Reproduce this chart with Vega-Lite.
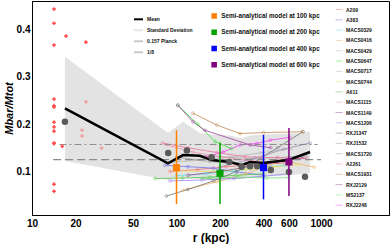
{
  "$schema": "https://vega.github.io/schema/vega-lite/v6.json",
  "width": 357,
  "height": 214,
  "autosize": {"type": "none"},
  "padding": {"left": 32, "top": 1, "right": 1, "bottom": 29},
  "config": {
    "font": "Liberation Sans",
    "view": {"stroke": "black", "strokeWidth": 1},
    "axis": {"grid": false, "domainColor": "black", "labelFontWeight": "bold", "labelFontSize": 10, "labelColor": "black", "titleFontWeight": "bold", "titleColor": "black"},
    "legend": {"padding": 0, "labelFont": "Liberation Sans", "labelFontWeight": "bold", "labelColor": "#111111"}
  },
  "resolve": {"scale": {"color": "independent"}},
  "encoding": {
    "x": {"field": "r", "type": "quantitative", "scale": {"type": "log", "domain": [10, 2955], "nice": false},
      "axis": {"values": [10, 20, 50, 100, 200, 400, 600, 1000], "format": "d", "ticks": false, "labelPadding": 3, "title": "r (kpc)", "titleFontSize": 12, "titlePadding": 4, "labelFlush": false}},
    "y": {"field": "v", "type": "quantitative", "scale": {"domain": [0.008, 0.46], "nice": false, "zero": false},
      "axis": {"values": [0.1, 0.2, 0.3, 0.4], "format": ".1f", "ticks": false, "labelPadding": 2, "title": "Mbar/Mtot", "titleFontSize": 11, "titleFontStyle": "italic", "titlePadding": 2}}
  },
  "layer": [
    {
      "data": {"values": [
        {"r": 16.9, "v": 0.342, "lo": 0.122},
        {"r": 87.3, "v": 0.181, "lo": 0.082},
        {"r": 111, "v": 0.205, "lo": 0.086},
        {"r": 145, "v": 0.181, "lo": 0.084},
        {"r": 175, "v": 0.178, "lo": 0.083},
        {"r": 234, "v": 0.176, "lo": 0.083},
        {"r": 282, "v": 0.17, "lo": 0.084},
        {"r": 323, "v": 0.176, "lo": 0.086},
        {"r": 397, "v": 0.178, "lo": 0.088},
        {"r": 591, "v": 0.18, "lo": 0.092},
        {"r": 840, "v": 0.184, "lo": 0.096}
      ]},
      "mark": {"type": "area", "color": "#e3e3e3"},
      "encoding": {"y2": {"field": "lo"}}
    },
    {
      "data": {"values": [
        {"c": "A209", "r": 90, "v": 0.100}, {"c": "A209", "r": 140, "v": 0.104}, {"c": "A209", "r": 220, "v": 0.110}, {"c": "A209", "r": 350, "v": 0.114}, {"c": "A209", "r": 560, "v": 0.118},
        {"c": "A383", "r": 83, "v": 0.113}, {"c": "A383", "r": 120, "v": 0.110}, {"c": "A383", "r": 180, "v": 0.107}, {"c": "A383", "r": 260, "v": 0.099}, {"c": "A383", "r": 400, "v": 0.092},
        {"c": "MACS0329", "r": 100, "v": 0.091}, {"c": "MACS0329", "r": 160, "v": 0.095}, {"c": "MACS0329", "r": 250, "v": 0.101}, {"c": "MACS0329", "r": 380, "v": 0.108}, {"c": "MACS0329", "r": 560, "v": 0.113},
        {"c": "MACS0416", "r": 110, "v": 0.060}, {"c": "MACS0416", "r": 190, "v": 0.078}, {"c": "MACS0416", "r": 300, "v": 0.095}, {"c": "MACS0416", "r": 530, "v": 0.124}, {"c": "MACS0416", "r": 900, "v": 0.109},
        {"c": "MACS0429", "r": 95, "v": 0.120}, {"c": "MACS0429", "r": 150, "v": 0.124}, {"c": "MACS0429", "r": 240, "v": 0.131}, {"c": "MACS0429", "r": 380, "v": 0.139}, {"c": "MACS0429", "r": 620, "v": 0.148},
        {"c": "MACS0647", "r": 102, "v": 0.240}, {"c": "MACS0647", "r": 140, "v": 0.200}, {"c": "MACS0647", "r": 185, "v": 0.163}, {"c": "MACS0647", "r": 240, "v": 0.148},
        {"c": "MACS0717", "r": 120, "v": 0.136}, {"c": "MACS0717", "r": 200, "v": 0.131}, {"c": "MACS0717", "r": 320, "v": 0.127}, {"c": "MACS0717", "r": 500, "v": 0.129}, {"c": "MACS0717", "r": 800, "v": 0.134},
        {"c": "MACS0744", "r": 100, "v": 0.101}, {"c": "MACS0744", "r": 180, "v": 0.100}, {"c": "MACS0744", "r": 300, "v": 0.104}, {"c": "MACS0744", "r": 480, "v": 0.110}, {"c": "MACS0744", "r": 700, "v": 0.114},
        {"c": "A611", "r": 71, "v": 0.085}, {"c": "A611", "r": 110, "v": 0.086}, {"c": "A611", "r": 170, "v": 0.088}, {"c": "A611", "r": 260, "v": 0.092}, {"c": "A611", "r": 400, "v": 0.095},
        {"c": "MACS1115", "r": 85, "v": 0.156}, {"c": "MACS1115", "r": 130, "v": 0.141}, {"c": "MACS1115", "r": 200, "v": 0.131}, {"c": "MACS1115", "r": 300, "v": 0.124}, {"c": "MACS1115", "r": 450, "v": 0.119},
        {"c": "MACS1149", "r": 102, "v": 0.240}, {"c": "MACS1149", "r": 130, "v": 0.205}, {"c": "MACS1149", "r": 157, "v": 0.187}, {"c": "MACS1149", "r": 323, "v": 0.156}, {"c": "MACS1149", "r": 450, "v": 0.150},
        {"c": "MACS1206", "r": 90, "v": 0.080}, {"c": "MACS1206", "r": 150, "v": 0.082}, {"c": "MACS1206", "r": 250, "v": 0.085}, {"c": "MACS1206", "r": 400, "v": 0.090}, {"c": "MACS1206", "r": 600, "v": 0.095},
        {"c": "RXJ1347", "r": 85, "v": 0.048}, {"c": "RXJ1347", "r": 120, "v": 0.062}, {"c": "RXJ1347", "r": 180, "v": 0.080}, {"c": "RXJ1347", "r": 260, "v": 0.100}, {"c": "RXJ1347", "r": 340, "v": 0.118}, {"c": "RXJ1347", "r": 500, "v": 0.150}, {"c": "RXJ1347", "r": 750, "v": 0.184},
        {"c": "RXJ1532", "r": 100, "v": 0.130}, {"c": "RXJ1532", "r": 170, "v": 0.121}, {"c": "RXJ1532", "r": 280, "v": 0.115}, {"c": "RXJ1532", "r": 450, "v": 0.110},
        {"c": "MACS1720", "r": 200, "v": 0.110}, {"c": "MACS1720", "r": 350, "v": 0.128}, {"c": "MACS1720", "r": 550, "v": 0.147}, {"c": "MACS1720", "r": 840, "v": 0.160},
        {"c": "A2261", "r": 80, "v": 0.160}, {"c": "A2261", "r": 120, "v": 0.150}, {"c": "A2261", "r": 190, "v": 0.140}, {"c": "A2261", "r": 300, "v": 0.131}, {"c": "A2261", "r": 500, "v": 0.129}, {"c": "A2261", "r": 800, "v": 0.127},
        {"c": "MACS1931", "r": 130, "v": 0.223}, {"c": "MACS1931", "r": 190, "v": 0.198}, {"c": "MACS1931", "r": 275, "v": 0.180}, {"c": "MACS1931", "r": 400, "v": 0.182}, {"c": "MACS1931", "r": 750, "v": 0.184},
        {"c": "RXJ2129", "r": 120, "v": 0.092}, {"c": "RXJ2129", "r": 200, "v": 0.100}, {"c": "RXJ2129", "r": 320, "v": 0.110}, {"c": "RXJ2129", "r": 500, "v": 0.120}, {"c": "RXJ2129", "r": 760, "v": 0.130},
        {"c": "MS2137", "r": 150, "v": 0.085}, {"c": "MS2137", "r": 270, "v": 0.088}, {"c": "MS2137", "r": 420, "v": 0.086}, {"c": "MS2137", "r": 600, "v": 0.087},
        {"c": "RXJ2248", "r": 160, "v": 0.130}, {"c": "RXJ2248", "r": 210, "v": 0.141}, {"c": "RXJ2248", "r": 276, "v": 0.156}, {"c": "RXJ2248", "r": 360, "v": 0.159}, {"c": "RXJ2248", "r": 445, "v": 0.166}, {"c": "RXJ2248", "r": 610, "v": 0.172}
      ]},
      "mark": {"type": "line", "strokeWidth": 0.8, "point": {"filled": false, "size": 8, "strokeWidth": 0.5}},
      "encoding": {
        "color": {"field": "c", "type": "nominal",
          "scale": {
            "domain": ["A209", "A383", "MACS0329", "MACS0416", "MACS0429", "MACS0647", "MACS0717", "MACS0744", "A611", "MACS1115", "MACS1149", "MACS1206", "RXJ1347", "RXJ1532", "MACS1720", "A2261", "MACS1931", "RXJ2129", "MS2137", "RXJ2248"],
            "range": ["#f07070", "#7070ee", "#60e0e0", "#f0b060", "#b8b8b8", "#30e030", "#a8a8a8", "#e8e060", "#50c850", "#f090a8", "#a040a0", "#9a80f0", "#707070", "#9a9a9a", "#9a88b0", "#f070a0", "#c08850", "#905090", "#70e070", "#f040f0"]
          },
          "legend": {"orient": "none", "legendX": 303, "legendY": 4.5, "title": null, "symbolType": "stroke", "symbolSize": 49, "symbolStrokeWidth": 1, "symbolOpacity": 0.45, "labelFontSize": 5, "rowPadding": 3.3, "labelOffset": 3, "padding": 0}
        }
      }
    },
    {
      "data": {"values": [{"r": 15.5, "r2": 950, "v": 0.157}]},
      "mark": {"type": "rule", "color": "#8c8c8c", "strokeWidth": 1, "strokeDash": [7, 3, 2, 3]},
      "encoding": {"x2": {"field": "r2"}}
    },
    {
      "data": {"values": [{"r": 14, "r2": 1000, "v": 0.125}]},
      "mark": {"type": "rule", "color": "#8c8c8c", "strokeWidth": 1.2, "strokeDash": [8, 4]},
      "encoding": {"x2": {"field": "r2"}}
    },
    {
      "data": {"values": [
        {"series": "Mean", "r": 16.9, "v": 0.233},
        {"series": "Mean", "r": 87.3, "v": 0.117},
        {"series": "Mean", "r": 111, "v": 0.1345},
        {"series": "Mean", "r": 145, "v": 0.133},
        {"series": "Mean", "r": 175, "v": 0.124},
        {"series": "Mean", "r": 234, "v": 0.120},
        {"series": "Mean", "r": 282, "v": 0.113},
        {"series": "Mean", "r": 323, "v": 0.120},
        {"series": "Mean", "r": 397, "v": 0.118},
        {"series": "Mean", "r": 591, "v": 0.124},
        {"series": "Mean", "r": 840, "v": 0.141}
      ]},
      "mark": {"type": "line", "strokeWidth": 2.5},
      "encoding": {
        "color": {"field": "series", "type": "nominal",
          "scale": {"domain": ["Mean", "Standard Deviation", "0.157 Planck", "1/8"], "range": ["#000000", "#e6e6e6", "#c8c8c8", "#c8c8c8"]},
          "legend": {"orient": "none", "legendX": 101, "legendY": 12.8, "title": null, "symbolType": "stroke", "symbolSize": 81, "symbolStrokeWidth": 2, "labelFontSize": 5, "rowPadding": 1, "labelOffset": 3, "padding": 0}
        }
      }
    },
    {
      "data": {"values": [
        {"r": 16.9, "v": 0.205}, {"r": 87.6, "v": 0.139}, {"r": 118, "v": 0.144}, {"r": 175, "v": 0.130},
        {"r": 232, "v": 0.120}, {"r": 282, "v": 0.110}, {"r": 323, "v": 0.111}, {"r": 362, "v": 0.111},
        {"r": 449, "v": 0.103}, {"r": 600, "v": 0.099}, {"r": 775, "v": 0.089}
      ]},
      "mark": {"type": "point", "filled": true, "color": "#5a5a5a", "size": 42, "opacity": 1}
    },
    {
      "data": {"values": [
        {"m": "Semi-analytical model at 100 kpc", "r": 100, "v": 0.108, "lo": 0.031, "hi": 0.187},
        {"m": "Semi-analytical model at 200 kpc", "r": 200, "v": 0.096, "lo": 0.031, "hi": 0.161},
        {"m": "Semi-analytical model at 400 kpc", "r": 400, "v": 0.108, "lo": 0.041, "hi": 0.177},
        {"m": "Semi-analytical model at 600 kpc", "r": 600, "v": 0.120, "lo": 0.048, "hi": 0.192}
      ]},
      "layer": [
        {
          "mark": {"type": "rule", "strokeWidth": 1.5},
          "encoding": {
            "y2": {"field": "hi"},
            "color": {"field": "m", "type": "nominal"}
          }
        },
        {
          "mark": {"type": "rule", "strokeWidth": 1.5},
          "encoding": {
            "y2": {"field": "lo"},
            "color": {"field": "m", "type": "nominal"}
          }
        },
        {
          "mark": {"type": "point", "shape": "square", "filled": true, "size": 50, "opacity": 1},
          "encoding": {
            "color": {"field": "m", "type": "nominal",
              "scale": {"domain": ["Semi-analytical model at 100 kpc", "Semi-analytical model at 200 kpc", "Semi-analytical model at 400 kpc", "Semi-analytical model at 600 kpc"], "range": ["#ff8000", "#00a000", "#0000ff", "#800080"]},
              "legend": {"orient": "none", "legendX": 179, "legendY": 11.75, "title": null, "symbolType": "square", "symbolSize": 16, "labelFontSize": 6.3, "rowPadding": 5.3, "labelOffset": 4, "padding": 0}
            }
          }
        }
      ]
    },
    {
      "data": {"values": [
        {"r": 14.2, "v": 0.443}, {"r": 14.2, "v": 0.413}, {"r": 14.2, "v": 0.367}, {"r": 14.2, "v": 0.253},
        {"r": 14.2, "v": 0.239}, {"r": 14.2, "v": 0.236}, {"r": 14.2, "v": 0.204}, {"r": 14.2, "v": 0.194},
        {"r": 14.2, "v": 0.185}, {"r": 14.2, "v": 0.160}, {"r": 14.2, "v": 0.159}, {"r": 14.2, "v": 0.073},
        {"r": 14.2, "v": 0.058}, {"r": 17.2, "v": 0.386}, {"r": 23.6, "v": 0.373}, {"r": 16.2, "v": 0.153}
      ]},
      "mark": {"type": "point", "shape": "cross", "filled": true, "color": "#ff4d4d", "size": 14, "opacity": 1}
    },
    {
      "data": {"values": [
        {"r": 23.6, "v": 0.247}, {"r": 22.2, "v": 0.187}, {"r": 22.2, "v": 0.175}, {"r": 30.3, "v": 0.149}
      ]},
      "mark": {"type": "point", "shape": "cross", "filled": true, "color": "#ff4d4d", "size": 14, "opacity": 0.45}
    }
  ]
}
